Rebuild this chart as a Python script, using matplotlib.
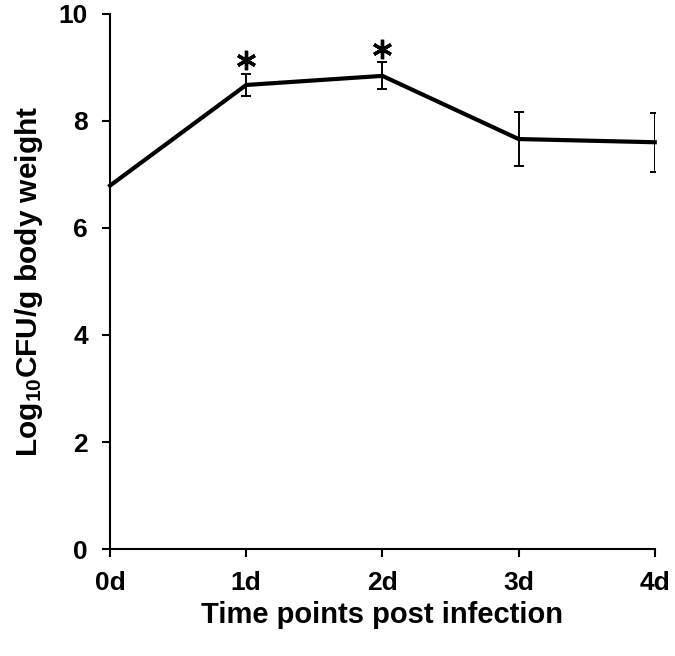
import matplotlib
matplotlib.use("Agg")
import matplotlib.pyplot as plt

categories = ["0d", "1d", "2d", "3d", "4d"]
values = [6.79, 8.67, 8.84, 7.66, 7.60]
errors = [0.0, 0.21, 0.25, 0.50, 0.55]
significant = [False, True, True, False, False]
yticks = [0, 2, 4, 6, 8, 10]

plt.rcParams['font.family'] = ['Liberation Sans', 'DejaVu Sans']
plt.rcParams['font.weight'] = 'bold'
plt.rcParams['mathtext.fontset'] = 'custom'
plt.rcParams['mathtext.rm'] = 'Liberation Sans:bold'
plt.rcParams['mathtext.bf'] = 'Liberation Sans:bold'
plt.rcParams['mathtext.default'] = 'bf'

fig = plt.figure(figsize=(6.75, 6.56), dpi=100)
ax = fig.add_axes([0.163, 0.163, 0.807, 0.816])

x = list(range(len(categories)))
ax.plot(x, values, color='black', linewidth=3.0, solid_joinstyle='miter', zorder=3)
ex = [xi for xi, e in zip(x, errors) if e > 0]
ey = [v for v, e in zip(values, errors) if e > 0]
ee = [e for e in errors if e > 0]
ax.errorbar(ex, ey, yerr=ee, fmt='none', ecolor='black', elinewidth=1.4,
            capsize=3.3, capthick=1.4, zorder=2)
sx = [xi for xi, s in zip(x, significant) if s]
sy = [v + e + 0.26 for v, e, s in zip(values, errors, significant) if s]
ax.plot(sx, sy, linestyle='none', marker=(6, 2, 0), markersize=14,
        markeredgewidth=2.4, color='black', clip_on=False)

ax.set_xlim(0, 4)
ax.set_ylim(0, 10)
ax.set_xticks(x)
ax.set_xticklabels(categories)
ax.set_yticks(yticks)
ax.spines['top'].set_visible(False)
ax.spines['right'].set_visible(False)
for sp in ['left', 'bottom']:
    ax.spines[sp].set_linewidth(1.5)
ax.tick_params(direction='out', length=6, width=1.5, labelsize=19)
ax.tick_params(axis='y', pad=10)
ax.tick_params(axis='x', pad=10)
for lab in ax.get_xticklabels() + ax.get_yticklabels():
    lab.set_fontweight('bold')
ax.set_xlabel("Time points post infection", fontsize=21, fontweight='bold', labelpad=4)
ax.set_ylabel(r"Log$_{10}$CFU/g body weight", fontsize=21.5, fontweight='bold', labelpad=10)
ax.patch.set_visible(False)
ax.lines[0].set_clip_on(False)

fig.savefig("out.png", dpi=100)
